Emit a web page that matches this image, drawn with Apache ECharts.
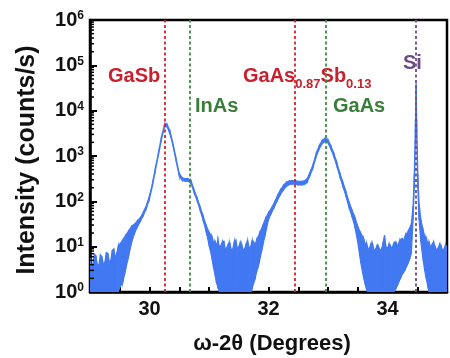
<!DOCTYPE html>
<html><head><meta charset="utf-8">
<script src="https://cdn.jsdelivr.net/npm/echarts@6/dist/echarts.min.js"></script>
<style>html,body{margin:0;padding:0;background:#fff}#c{width:450px;height:358px}</style>
</head><body><div id="c"></div>
<script>
// ---- data ----
const twoTheta = [
29.000,29.025,29.050,29.075,29.100,29.125,29.150,29.175,29.200,29.225,29.250,29.275,29.300,29.325,29.350,29.375,29.400,29.425,29.450,29.475,29.500,
29.55,29.60,29.65,29.70,29.75,29.80,29.85,29.90,29.95,30.00,30.05,30.10,30.15,30.20,30.25,30.27,30.30,30.35,30.40,30.45,30.50,30.55,30.60,30.65,30.70,30.75,30.80,30.85,30.90,30.95,31.00,
31.050,31.075,31.100,31.125,31.150,31.175,31.200,31.225,31.250,31.275,31.300,31.325,31.350,31.375,31.400,31.425,31.450,31.475,31.500,31.525,31.550,31.575,31.600,31.625,31.650,31.675,31.700,31.725,31.750,31.775,31.800,31.825,31.850,
31.90,31.95,32.00,32.05,32.10,32.15,32.20,32.25,32.30,32.35,32.40,32.45,32.50,32.55,32.60,32.65,32.70,32.75,32.80,32.85,32.90,32.95,33.00,33.05,33.10,33.15,33.20,33.25,33.30,33.35,33.40,33.45,33.50,33.55,
33.600,33.625,33.650,33.675,33.700,33.725,33.750,33.775,33.800,33.825,33.850,33.875,33.900,33.925,33.950,33.975,34.000,34.025,34.050,34.075,34.100,34.125,34.150,34.175,34.200,34.225,34.250,34.275,34.300,34.325,34.350,34.375,34.400,
34.43,34.45,34.47,34.48,34.49,34.51,34.53,34.56,
34.600,34.625,34.650,34.675,34.700,34.725,34.750,34.775,34.800,34.825,34.850,34.875,34.900,34.925,34.950,34.975,35.000];
// upper envelope of the noisy intensity trace (counts/s)
const upperCounts = [
5.6,3.6,4.2,6.8,6.3,3.9,4.0,6.6,6.0,4.1,4.5,7.4,7.1,4.6,5.0,8.3,8.9,5.8,7.1,10.2,11.2,
14.1,17.8,22.4,28.2,31.6,38,44.7,59,83,132,251,562,1175,2630,4786,5129,4898,3311,1778,832,417,331,316,316,282,178,120,76,48,30,21,
16.6,12.5,13.2,10.8,14.1,9.8,10.5,12.9,13.2,8.7,9.5,11.5,12,8.5,8.9,12.8,14.1,9.3,10,12.3,11.2,8.4,8.9,11.6,13.2,9.4,10,13.5,12.6,11.0,14.1,16,20,
28.2,41.7,56,71,95,132,178,224,263,282,288,288,275,275,282,316,447,661,1122,1660,2188,2455,2291,1660,1122,708,417,263,166,100,66,45,28,20,
15,11.5,11.7,8.8,9.5,11.8,11.2,8.2,8.9,10.6,10,8.3,8.9,12,17.8,9.8,9.3,11.4,10.5,9.0,11.2,12.5,12,10.2,13.2,14.5,15,14,17.8,19.5,22.4,26,31.6,
79,398,6300,39810,6300,398,89,40,
23,17,15.8,12.2,12.6,9.6,11.2,12.5,10,8.4,9.3,11.3,10.5,8.2,8.9,11.0,10];
// lower envelope of the noisy intensity trace (counts/s)
const lowerCounts = [
1,1,1,1,1,1,1,1,1,1,1,1,1,1,1,1,1,1,1,1,1.26,
1.6,3.2,6.3,12.6,20,28,37,50,72,115,220,490,1030,2300,4200,4500,4300,2900,1560,730,365,290,277,277,245,155,104,64,39,22,11,
5.6,3.5,2.5,1.6,1.26,1,1,1,1,1,1,1,1,1,1,1,1,1,1,1,1,1,1,1,1,1,1,1.2,1.6,2.0,2.8,3.6,5,
10,20,40,56,76,105,141,178,214,234,240,240,229,229,234,263,380,562,955,1413,1862,2089,1950,1413,955,589,347,214,132,76,48,28,12.6,4.5,
2,1.5,1.12,1,1,1,1,1,1,1,1,1,1,1,1,1,1,1,1,1,1,1.1,1.26,1.5,1.8,2.1,2.5,2.8,3.2,3.8,4.5,5.5,7,
40,200,3000,20000,3000,200,40,13,
5,3,2,1.4,1,1,1,1,1,1,1,1,1,1,1,1,1];
const refPositions = [30.26, 30.67, 32.44, 32.96, 34.48];
const refColors = ['#d2232e', '#3f8a3f', '#d2232e', '#3f8a3f', '#6e4d85'];
const xTickLabels = [30, 32, 34];

const BLUE = '#4279f2';
const FONT = "'Liberation Sans', Arial, sans-serif";

const bandData = [];
for (let i = 0; i < twoTheta.length - 1; i++) {
  bandData.push([twoTheta[i], twoTheta[i+1], upperCounts[i], upperCounts[i+1], lowerCounts[i], lowerCounts[i+1]]);
}

const chart = echarts.init(document.getElementById('c'), null, {renderer: 'canvas'});
const option = {
  animation: false,
  grid: {left: 90, top: 20, width: 367, height: 272, show: true, borderColor: '#000', borderWidth: 2.5, backgroundColor: 'transparent'},
  xAxis: {
    type: 'value', min: 29, max: 35, interval: 0.5,
    axisLine: {show: true, lineStyle: {color: '#000', width: 2.5}},
    axisTick: {show: true, inside: true, length: 5, lineStyle: {color: '#000', width: 2}},
    splitLine: {show: false},
    axisLabel: {
      margin: 7, color: '#111', fontFamily: FONT, fontWeight: 'bold', fontSize: 20,
      formatter: v => xTickLabels.indexOf(Math.round(v * 100) / 100) >= 0 ? String(Math.round(v)) : ''
    }
  },
  yAxis: {
    type: 'log', logBase: 10, min: 1, max: 1e6, splitNumber: 6,
    axisLine: {show: true, lineStyle: {color: '#000', width: 2.5}},
    axisTick: {show: true, inside: true, length: 7, lineStyle: {color: '#000', width: 2}},
    splitLine: {show: false},
    axisLabel: {
      margin: 6, color: '#111',
      formatter: v => '{b|10}{s|' + Math.round(Math.log10(v)) + '}',
      rich: {
        b: {fontFamily: FONT, fontWeight: 'bold', fontSize: 20, lineHeight: 20},
        s: {fontFamily: FONT, fontWeight: 'bold', fontSize: 12, lineHeight: 12, verticalAlign: 'top'}
      }
    }
  },
  series: [
    {
      type: 'custom', clip: true, silent: true, z: 2,
      dimensions: ['x0', 'x1', 'u0', 'u1', 'l0', 'l1'],
      encode: {x: [0, 1], y: [2, 3, 4, 5]},
      data: bandData,
      renderItem: function (params, api) {
        const a = api.coord([api.value(0), api.value(2)]);
        const b = api.coord([api.value(1), api.value(3)]);
        const c = api.coord([api.value(1), api.value(5)]);
        const d = api.coord([api.value(0), api.value(4)]);
        return {type: 'polygon', shape: {points: [a, b, c, d]},
          style: {fill: BLUE, stroke: BLUE, lineWidth: 1.2}};
      }
    },
    {
      type: 'line', data: [], z: 5, silent: true,
      markLine: {
        silent: true, symbol: ['none', 'none'], label: {show: false},
        animation: false,
        data: refPositions.map((p, i) => ({xAxis: p, lineStyle: {color: refColors[i], type: [3, 2.5], width: 1.8}}))
      }
    }
  ],
  graphic: [
    {type: 'text', x: 108, y: 76, style: {text: 'GaSb', fill: '#c8202c', font: 'bold 20px ' + FONT, textAlign: 'left', textVerticalAlign: 'middle'}},
    {type: 'text', x: 195, y: 106, style: {text: 'InAs', fill: '#3a7d3a', font: 'bold 20px ' + FONT, textAlign: 'left', textVerticalAlign: 'middle'}},
    {type: 'text', x: 243, y: 76, style: {
      text: '{m|GaAs}{s|0.87}{m|Sb}{s|0.13}', fill: '#c8202c', textAlign: 'left', textVerticalAlign: 'middle',
      rich: {
        m: {fontFamily: FONT, fontWeight: 'bold', fontSize: 20, lineHeight: 22, fill: '#c8202c'},
        s: {fontFamily: FONT, fontWeight: 'bold', fontSize: 13, lineHeight: 13, verticalAlign: 'bottom', padding: [0, 0, -4, 0], fill: '#c8202c'}
      }}},
    {type: 'text', x: 333, y: 106, style: {text: 'GaAs', fill: '#3a7d3a', font: 'bold 20px ' + FONT, textAlign: 'left', textVerticalAlign: 'middle'}},
    {type: 'text', x: 403, y: 63, style: {text: 'Si', fill: '#6b4a86', font: 'bold 20px ' + FONT, textAlign: 'left', textVerticalAlign: 'middle'}},
    {type: 'text', x: 272, y: 344, style: {text: 'ω-2θ (Degrees)', fill: '#111', font: 'bold 22px ' + FONT, textAlign: 'center', textVerticalAlign: 'middle'}},
    {type: 'text', x: 27, y: 160, rotation: Math.PI / 2, style: {text: 'Intensity (counts/s)', fill: '#111', font: 'bold 25px ' + FONT, textAlign: 'center', textVerticalAlign: 'middle'}}
  ]
};
chart.setOption(option);

// log-style minor ticks on the y axis (2..9 x 10^k), positioned via the axis scale
const minor = [];
const x0 = chart.convertToPixel({xAxisIndex: 0}, 29);
for (let k = 0; k < 6; k++) {
  for (let m = 2; m <= 9; m++) {
    const y = chart.convertToPixel({yAxisIndex: 0}, m * Math.pow(10, k));
    minor.push({type: 'line', shape: {x1: x0, y1: y, x2: x0 + 4, y2: y}, style: {stroke: '#000', lineWidth: 1.5}, z: 10});
  }
}
chart.setOption({graphic: option.graphic.concat(minor)});
</script></body></html>
